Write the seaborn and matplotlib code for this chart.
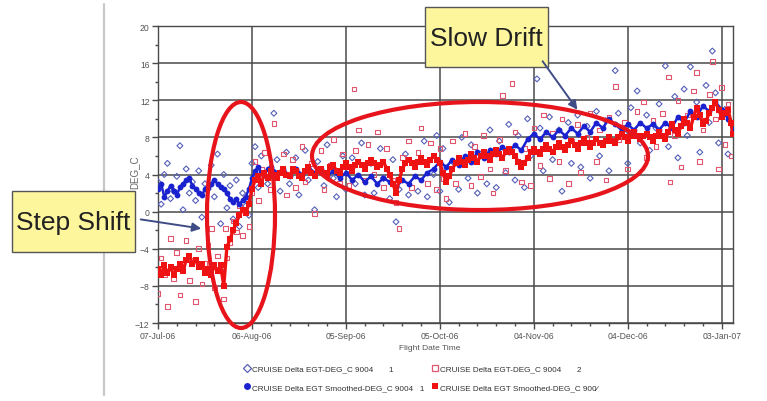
import pandas as pd
import matplotlib
matplotlib.use("Agg")
import matplotlib.pyplot as plt
import matplotlib.dates as mdates
from matplotlib.patches import Ellipse, Rectangle, FancyArrowPatch
from matplotlib.lines import Line2D
from matplotlib.transforms import IdentityTransform
import seaborn as sns

W, H = 767, 402
start = pd.Timestamp("2006-07-07")

# (day since 07-Jul-06, DEG_C)
blue_raw = [
    (0, 3.2), (1, 0.8), (2, 4.0), (3, 5.2), (4, 1.4), (5, 2.2), (6, 3.8), (7, 7.1), (8, 0.2), (9, 4.6),
    (10, 2.0), (11, 3.2), (12, 1.2), (13, 4.4), (14, -0.6), (15, 3.0), (16, 2.4), (17, 5.0), (18, 1.6),
    (19, 6.2), (20, -1.3), (21, 4.0), (22, 0.4), (23, 2.8), (24, -0.8), (25, 3.4), (26, -1.6), (27, 2.0),
    (28, 0.6), (29, -0.4), (30, 5.2), (31, 7.0), (32, 2.6), (33, 6.0), (35, 3.0), (37, 10.6), (38, 5.6),
    (39, 2.2), (41, 6.4), (42, 3.0), (44, 5.8), (45, 1.8), (47, 6.6), (48, 3.4), (50, 0.2), (51, 5.4),
    (53, 2.8), (54, 7.2), (56, 3.6), (57, 1.6), (59, 6.0), (60, 2.4), (62, 5.8), (63, 3.0), (65, 7.4),
    (66, 1.8), (68, 5.2), (69, 2.0), (71, 6.8), (72, 3.6), (74, 1.4), (75, 5.6), (76, -1.1), (77, 2.4),
    (79, 6.2), (80, 1.8), (82, 5.0), (83, 2.2), (85, 7.6), (86, 1.6), (88, 4.0), (89, 8.2), (90, 2.2),
    (91, 6.8), (93, 1.0), (94, 5.4), (96, 2.4), (97, 8.0), (99, 3.6), (100, 7.2), (102, 2.0), (103, 6.2),
    (105, 3.0), (106, 8.8), (108, 2.6), (109, 7.6), (111, 4.2), (112, 9.4), (114, 3.4), (115, 8.2),
    (117, 2.6), (118, 10.0), (119, 6.0), (121, 14.3), (122, 9.0), (123, 4.4), (125, 10.2), (126, 5.6),
    (128, 8.8), (129, 2.2), (131, 9.6), (132, 5.2), (134, 10.4), (135, 4.8), (137, 9.2), (138, 3.6),
    (140, 10.8), (141, 6.0), (143, 9.8), (144, 4.4), (146, 15.2), (147, 10.6), (149, 8.4), (150, 5.2),
    (151, 11.2), (153, 13.0), (154, 7.4), (156, 10.4), (157, 6.6), (159, 9.0), (160, 11.6), (162, 15.7),
    (163, 7.0), (165, 12.4), (166, 5.8), (168, 13.2), (169, 8.2), (170, 15.6), (172, 11.8), (173, 6.4),
    (175, 13.6), (176, 9.6), (177, 17.3), (178, 12.8), (179, 7.4), (181, 11.0), (182, 6.2), (183, 9.6),
]

red_raw = [
    (0, -8.8), (1, -5.0), (2, -6.8), (3, -10.2), (4, -2.9), (5, -7.2), (6, -4.4), (7, -9.0), (8, -6.0),
    (9, -3.1), (10, -7.4), (11, -5.2), (12, -9.7), (13, -4.0), (14, -7.8), (15, -5.6), (16, -3.6),
    (17, -1.8), (18, -8.2), (19, -4.8), (20, -6.4), (21, -9.4), (21.5, -1.8), (22, -5.0), (23, -3.4),
    (24, -1.0), (25, -2.2), (26, 0.6), (27, -2.6), (28, 1.4), (29, -1.6), (30, 2.0), (31, 5.4), (32, 1.2),
    (33, 4.6), (34, 6.4), (36, 2.4), (37, 9.5), (38, 4.0), (40, 6.2), (41, 1.8), (43, 5.6), (44, 2.6),
    (46, 7.0), (47, 3.2), (49, 5.2), (50, -0.2), (52, 6.6), (53, 2.4), (55, 5.0), (56, 7.8), (58, 3.0),
    (59, 6.2), (61, 2.8), (62.6, 13.2), (63, 6.6), (64, 8.8), (66, 3.4), (67, 7.2), (69, 4.0), (70, 8.6),
    (72, 2.6), (73, 6.8), (75, 3.4), (76, 1.0), (77, -1.8), (78, 5.8), (80, 7.6), (81, 2.6), (83, 6.4),
    (84, 9.0), (86, 3.0), (87, 7.4), (89, 2.4), (90, 6.8), (91, 3.6), (92, 1.4), (94, 7.6), (95, 3.0),
    (97, 5.2), (98, 8.4), (100, 2.8), (101, 7.0), (103, 3.8), (104, 8.2), (106, 4.6), (107, 2.0),
    (109, 7.8), (110, 12.5), (111, 4.4), (113, 13.8), (114, 8.6), (116, 3.2), (117, 6.8), (119, 2.8),
    (120, 9.0), (122, 5.0), (123, 10.4), (125, 3.6), (126, 8.4), (128, 5.4), (129, 10.0), (131, 3.0),
    (132, 7.6), (134, 9.4), (135, 4.2), (137, 8.0), (138, 10.6), (140, 5.4), (141, 8.8), (143, 3.4),
    (144, 10.2), (146, 13.5), (147, 7.8), (149, 9.6), (150, 4.6), (152, 8.4), (153, 10.8), (155, 11.8),
    (156, 5.8), (158, 9.8), (159, 7.0), (161, 10.6), (163, 14.5), (163.5, 3.2), (165, 8.2), (166, 12.0),
    (167, 4.8), (169, 10.4), (171, 13.0), (172, 15.0), (173, 5.4), (174, 8.8), (176, 12.6), (177, 16.2),
    (178, 10.0), (179, 4.6), (180, 13.4), (181, 7.2), (182, 11.6), (183, 6.0),
]

blue_smooth = [
    (0, 2.4), (1, 3.0), (2, 1.6), (3, 2.2), (4, 2.8), (5, 2.2), (6, 1.8), (7, 2.6), (8, 3.0), (9, 3.4),
    (10, 3.6), (11, 2.8), (12, 2.4), (13, 2.0), (14, 1.8), (15, 2.4), (16, 2.6), (17, 3.0), (18, 3.4),
    (19, 3.0), (20, 2.6), (21, 2.4), (22, 2.0), (23, 1.4), (24, 1.0), (25, 1.4), (26, 0.8), (27, 1.2),
    (28, 1.6), (29, 2.4), (30, 3.6), (31, 4.4), (32, 4.8), (33, 4.2), (34, 4.0), (35, 4.6), (36, 4.8),
    (38, 4.2), (40, 4.6), (42, 3.8), (44, 4.6), (46, 4.0), (48, 4.8), (50, 4.2), (52, 4.6), (54, 3.8),
    (56, 4.4), (58, 3.6), (60, 4.2), (62, 3.4), (64, 4.0), (66, 3.2), (68, 3.8), (70, 3.0), (72, 3.6),
    (74, 3.2), (76, 2.6), (78, 3.4), (80, 3.0), (82, 3.8), (84, 3.4), (86, 4.2), (88, 4.6), (90, 5.4),
    (92, 4.8), (94, 5.6), (96, 5.0), (98, 6.0), (100, 5.4), (102, 6.4), (104, 5.8), (106, 6.6), (108, 6.2),
    (110, 7.0), (112, 6.4), (114, 7.2), (116, 6.6), (118, 7.8), (120, 8.4), (122, 7.8), (124, 8.6),
    (126, 8.0), (128, 8.8), (130, 8.2), (132, 9.0), (134, 8.4), (136, 9.2), (138, 8.6), (140, 9.6),
    (142, 9.0), (144, 10.0), (146, 9.4), (148, 8.8), (150, 9.4), (152, 8.8), (154, 9.6), (156, 9.0),
    (158, 9.4), (160, 8.8), (162, 9.6), (164, 9.0), (166, 10.2), (168, 9.6), (170, 10.8), (172, 10.2),
    (174, 11.4), (176, 10.8), (178, 11.8), (180, 11.0), (182, 10.0), (183.5, 8.8),
]

red_smooth = [
    (0, -6.2), (1, -6.8), (2, -5.8), (3, -6.6), (4, -6.0), (5, -6.8), (6, -6.2), (7, -5.6), (8, -6.4),
    (9, -5.2), (10, -4.8), (11, -5.6), (12, -5.2), (13, -6.0), (14, -5.6), (15, -6.6), (16, -6.2),
    (17, -6.8), (18, -5.8), (19, -6.4), (20, -5.8), (21, -8.0), (22, -3.8), (23, -3.0), (24, -2.0),
    (25, -1.2), (26, -0.4), (27, 0.2), (28, -0.2), (29, 0.8), (30, 2.4), (31, 3.4), (32, 3.8), (33, 3.0),
    (34, 4.2), (35, 3.6), (36, 4.4), (37, 4.0), (38, 3.6), (39, 4.2), (40, 4.6), (41, 4.0), (42, 3.8),
    (43, 4.6), (44, 4.4), (45, 3.8), (46, 3.6), (47, 4.4), (48, 4.8), (49, 4.2), (50, 3.8), (51, 4.4),
    (52, 4.6), (53, 4.2), (54, 4.0), (55, 4.8), (56, 5.0), (57, 4.4), (58, 4.2), (59, 4.8), (60, 5.2),
    (61, 4.8), (62, 4.4), (63, 5.0), (64, 5.4), (65, 5.0), (66, 4.6), (67, 5.2), (68, 5.6), (69, 5.2),
    (70, 4.8), (71, 5.0), (72, 5.4), (73, 4.6), (74, 4.0), (75, 3.0), (76, 2.0), (77, 3.4), (78, 4.6),
    (79, 5.2), (80, 5.6), (81, 5.2), (82, 4.8), (83, 5.4), (84, 5.8), (85, 5.4), (86, 5.0), (87, 5.6),
    (88, 6.0), (89, 5.6), (90, 5.2), (91, 4.2), (92, 3.2), (93, 3.8), (94, 4.6), (95, 5.2), (96, 5.8),
    (97, 5.4), (98, 5.0), (99, 5.6), (100, 6.2), (101, 5.8), (102, 5.4), (103, 6.0), (104, 6.4),
    (105, 6.0), (106, 5.6), (107, 6.2), (108, 6.6), (109, 6.2), (110, 5.8), (111, 6.4), (112, 6.8),
    (113, 6.4), (114, 6.0), (115, 5.4), (116, 4.8), (117, 5.2), (118, 5.8), (119, 6.4), (120, 6.8),
    (121, 6.4), (122, 6.2), (123, 6.8), (124, 7.2), (125, 6.8), (126, 6.4), (127, 7.0), (128, 7.4),
    (129, 7.0), (130, 6.6), (131, 7.2), (132, 7.6), (133, 7.2), (134, 6.8), (135, 7.4), (136, 7.8),
    (137, 7.4), (138, 7.0), (139, 7.4), (140, 7.8), (141, 7.4), (142, 7.2), (143, 7.6), (144, 8.0),
    (145, 7.6), (146, 7.4), (147, 8.0), (148, 8.4), (149, 8.0), (150, 7.6), (151, 8.2), (152, 8.6),
    (153, 8.2), (154, 7.8), (155, 8.2), (156, 8.4), (157, 8.0), (158, 7.6), (159, 8.2), (160, 8.6),
    (161, 8.2), (162, 7.8), (163, 8.6), (164, 9.4), (165, 8.8), (166, 8.4), (167, 9.2), (168, 10.0),
    (169, 9.6), (170, 9.0), (171, 10.2), (172, 11.2), (173, 10.4), (174, 9.4), (175, 9.8), (176, 10.6),
    (177, 11.2), (178, 11.8), (179, 11.0), (180, 10.2), (181, 10.6), (182, 11.0), (183, 9.6), (183.5, 8.4),
]

legend_labels = [
    "CRUISE Delta EGT-DEG_C 9004       1",
    "CRUISE Delta EGT Smoothed-DEG_C 9004   1",
    "CRUISE Delta EGT-DEG_C 9004       2",
    "CRUISE Delta EGT Smoothed-DEG_C 900\u2044",
]

C_BLUE_RAW = "#5560b8"
C_RED_RAW = "#e0566e"
C_BLUE = "#1a22d0"
C_RED = "#ee1212"
C_ANNOT = "#e8141c"
C_BOX = "#fdf69c"
C_ARROW = "#3f4c86"


def to_df(pairs):
    df = pd.DataFrame(pairs, columns=["day", "val"])
    df["date"] = start + pd.to_timedelta(df["day"], unit="D")
    return df


def fx(x):
    return x / W


def fy(y):
    return 1 - y / H


sns.set_style("white")
plt.rcParams["font.family"] = ["Liberation Sans Narrow", "Liberation Sans", "DejaVu Sans"]

fig = plt.figure(figsize=(W / 100, H / 100), dpi=100)
ax = fig.add_axes([fx(158), fy(324), (733 - 158) / W, (324 - 27) / H])

sns.scatterplot(data=to_df(blue_raw), x="date", y="val", ax=ax, marker="D", s=9,
                facecolor="none", edgecolor=C_BLUE_RAW, linewidth=0.8, zorder=3, legend=False)
sns.scatterplot(data=to_df(red_raw), x="date", y="val", ax=ax, marker="s", s=11,
                facecolor="none", edgecolor=C_RED_RAW, linewidth=0.8, zorder=3, legend=False)
sns.lineplot(data=to_df(blue_smooth), x="date", y="val", ax=ax, color=C_BLUE, lw=1.8,
             marker="o", markersize=4.2, markeredgewidth=0, estimator=None, sort=False,
             zorder=4, legend=False)
sns.lineplot(data=to_df(red_smooth), x="date", y="val", ax=ax, color=C_RED, lw=2.4,
             marker="s", markersize=3.8, markeredgewidth=0, estimator=None, sort=False,
             zorder=5, legend=False)

# axes
major_dates = pd.date_range(start, periods=7, freq="30D")
minor_dates = pd.date_range(start, periods=31, freq="6D")
ax.set_xlim(start, start + pd.Timedelta(days=183.6))
ax.set_ylim(-12, 20)
ax.set_xticks(major_dates)
ax.set_xticks(minor_dates, minor=True)
ax.xaxis.set_major_formatter(mdates.DateFormatter("%d-%b-%y"))
ax.set_yticks(range(-12, 21, 4))
ax.set_yticks(range(-10, 20, 4), minor=True)
ax.grid(True, which="major", color="#4a4a4a", lw=1.1)
ax.set_axisbelow(True)
for sp in ax.spines.values():
    sp.set_color("#4a4a4a")
    sp.set_linewidth(1.0)
ax.tick_params(axis="both", which="major", length=4, width=1, color="#4a4a4a",
               labelsize=6.2, labelcolor="#555555", pad=2, bottom=True, left=True)
ax.tick_params(axis="both", which="minor", length=2.5, width=1, color="#4a4a4a",
               bottom=True, left=True)
ax.set_xlabel("")
ax.set_ylabel("")

fig.text(fx(134), fy(172), "DEG_C", rotation=90, ha="center", va="center",
         fontsize=7, color="#666666")
fig.text(fx(430), fy(349), "Flight Date Time", ha="center", va="center",
         fontsize=6, color="#555555")

handles = [
    Line2D([], [], ls="", marker="D", mfc="none", mec=C_BLUE_RAW, ms=4.5, mew=0.9),
    Line2D([], [], ls="", marker="o", color=C_BLUE, ms=5, mew=0),
    Line2D([], [], ls="", marker="s", mfc="none", mec=C_RED_RAW, ms=4.5, mew=0.9),
    Line2D([], [], ls="", marker="s", color=C_RED, ms=5, mew=0),
]
fig.legend(handles, legend_labels, ncol=2, loc="upper left",
           bbox_to_anchor=(fx(244), fy(366)), frameon=False, fontsize=5.9,
           handlelength=0.7, handletextpad=0.3, columnspacing=0.9, labelspacing=1.3,
           borderaxespad=0, borderpad=0, labelcolor="#333333")

# left border line of the slide
fig.add_artist(Line2D([fx(104), fx(104)], [fy(5), fy(396)], color="#c8c8c8", lw=1.6))

# red ellipses (pixel coordinates)
fig.add_artist(Ellipse((241, H - 216), 68, 226, angle=0, fill=False,
                       ec=C_ANNOT, lw=3.0, transform=IdentityTransform(), zorder=10))
fig.add_artist(Ellipse((480, H - 157), 336, 108, angle=0, fill=False,
                       ec=C_ANNOT, lw=3.0, transform=IdentityTransform(), zorder=10))

# callout boxes
for (x0, y0, x1, y1, label) in [(425, 8, 548, 68, "Slow Drift"), (12, 192, 135, 253, "Step Shift")]:
    fig.add_artist(Rectangle((fx(x0), fy(y1)), (x1 - x0) / W, (y1 - y0) / H,
                             transform=fig.transFigure, fc=C_BOX, ec="#555555", lw=1.0, zorder=11))
    fig.text(fx((x0 + x1) / 2), fy((y0 + y1) / 2 + 1), label, ha="center", va="center",
             fontsize=19, color="#222222", zorder=12)

fig.add_artist(FancyArrowPatch((fx(541), fy(60)), (fx(579), fy(113)), transform=fig.transFigure,
                               arrowstyle="-|>", mutation_scale=13, color=C_ARROW, lw=1.4, zorder=12))
fig.add_artist(FancyArrowPatch((fx(138), fy(220)), (fx(204), fy(230)), transform=fig.transFigure,
                               arrowstyle="-|>", mutation_scale=13, color=C_ARROW, lw=1.4, zorder=12))

fig.savefig("out.png", dpi=100)
